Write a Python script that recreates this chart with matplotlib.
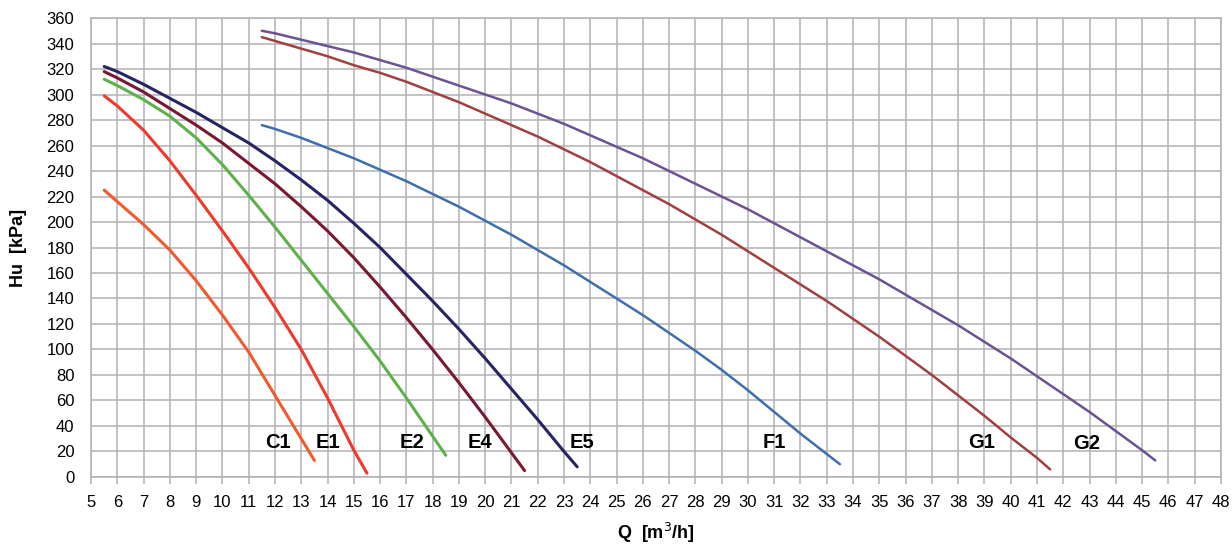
import numpy as np
import matplotlib.pyplot as plt

plt.rcParams['font.family'] = ['Liberation Sans', 'DejaVu Sans']

# pump curves: Q [m3/h] vs Hu [kPa]
c1_q = [5.5, 6, 7, 8, 9, 10, 11, 12, 13, 13.5]
c1_h = [225, 216, 198, 178, 154, 127, 98, 64, 30, 13]

e1_q = [5.5, 6, 7, 8, 9, 10, 11, 12, 13, 14, 15, 15.5]
e1_h = [299, 291, 272, 248, 221, 193, 164, 133, 100, 62, 21, 3]

e2_q = [5.5, 6, 7, 8, 9, 10, 11, 12, 13, 14, 15, 16, 17, 18, 18.5]
e2_h = [312, 307, 296, 283, 266, 245, 221, 196, 170, 144, 118, 91, 62, 32, 17]

e4_q = [5.5, 6, 7, 8, 9, 10, 11, 12, 13, 14, 15, 16, 17, 18, 19, 20, 21, 21.5]
e4_h = [318, 313, 302, 289, 276, 262, 246, 230, 212, 193, 172, 149, 125, 100, 74, 47, 19, 5]

e5_q = [5.5, 6, 7, 8, 9, 10, 11, 12, 13, 14, 15, 16, 17, 18, 19, 20, 21, 22, 23, 23.5]
e5_h = [322, 318, 308, 297, 286, 274, 262, 248, 233, 217, 199, 180, 159, 138, 116, 93, 69, 45, 20, 8]

f1_q = [11.5, 12, 13, 14, 15, 16, 17, 18, 19, 20, 21, 22, 23, 24, 25, 26, 27, 28, 29, 30, 31, 32, 33, 33.5]
f1_h = [276, 273, 266, 258, 250, 241, 232, 222, 212, 201, 190, 178, 166, 153, 140, 127, 113, 99, 84, 68, 51, 34, 18, 10]

g1_q = [11.5, 12, 13, 14, 15, 16, 17, 18, 19, 20, 21, 22, 23, 24, 25, 26, 27, 28, 29, 30,
        31, 32, 33, 34, 35, 36, 37, 38, 39, 40, 41, 41.5]
g1_h = [345, 342, 336, 330, 323, 317, 310, 302, 294, 285, 276, 267, 257, 247, 236, 225, 214, 202, 190, 177,
        164, 151, 138, 124, 110, 95, 80, 64, 48, 31, 15, 6]

g2_q = [11.5, 12, 13, 14, 15, 16, 17, 18, 19, 20, 21, 22, 23, 24, 25, 26, 27, 28, 29, 30,
        31, 32, 33, 34, 35, 36, 37, 38, 39, 40, 41, 42, 43, 44, 45, 45.5]
g2_h = [350, 348, 343, 338, 333, 327, 321, 314, 307, 300, 293, 285, 277, 268, 259, 250, 240, 230, 220, 210,
        199, 188, 177, 166, 155, 143, 131, 119, 106, 93, 79, 65, 51, 36, 21, 13]

labels = ['C1', 'E1', 'E2', 'E4', 'E5', 'F1', 'G1', 'G2']
label_x = [12.1, 14.0, 17.2, 19.8, 23.7, 31.0, 38.9, 42.9]
label_y = [27, 27, 27, 27, 27, 27, 27, 26]

curves = [
    (c1_q, c1_h, '#F15A2C', 2.2),
    (e1_q, e1_h, '#EE3A2A', 2.2),
    (e2_q, e2_h, '#5DB14A', 2.2),
    (e4_q, e4_h, '#7A1830', 2.2),
    (e5_q, e5_h, '#262462', 2.2),
    (f1_q, f1_h, '#3F6FAA', 1.8),
    (g1_q, g1_h, '#A0403E', 1.8),
    (g2_q, g2_h, '#6B5294', 1.8),
]

fig = plt.figure(figsize=(12.32, 5.46), dpi=100)
ax = fig.add_axes([0.0739, 0.1264, 0.9171, 0.8406])

for q, h, col, lw in curves:
    ax.plot(q, h, color=col, lw=lw, solid_capstyle='round', solid_joinstyle='round', zorder=3)

for name, x, y in zip(labels, label_x, label_y):
    ax.text(x, y, name, ha='center', va='center', fontsize=14.5, fontweight='bold', zorder=4)

ax.set_xlim(5, 48)
ax.set_ylim(0, 360)
ax.set_xticks(np.arange(5, 49, 1))
ax.set_yticks(np.arange(0, 361, 20))
ax.grid(True, color='#B2B2B6', lw=1.1, zorder=0)
ax.set_axisbelow(True)
for s in ax.spines.values():
    s.set_color('#B2B2B6')
    s.set_linewidth(1.1)
ax.tick_params(axis='x', direction='out', length=5, width=1.1, color='#B2B2B6', labelsize=12, pad=8)
ax.tick_params(axis='y', length=0, labelsize=12, pad=12)

ax.set_xlabel('Q  [m$^3$/h]', fontsize=13, fontweight='bold', labelpad=8)
ax.set_ylabel('Hu  [kPa]', fontsize=13, fontweight='bold', labelpad=14)

fig.savefig('out.png', dpi=100)
